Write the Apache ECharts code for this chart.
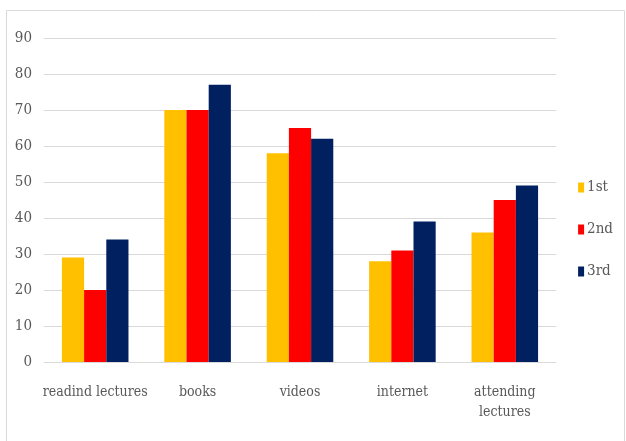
<!DOCTYPE html>
<html>
<head>
<meta charset="utf-8">
<script src="https://cdn.jsdelivr.net/npm/echarts@6/dist/echarts.min.js"></script>
<style>
  html, body {margin: 0; padding: 0; background: #fff;}
  #chart {width: 626px; height: 441px;}
</style>
</head>
<body>
<div id="chart"></div>
<script>
const categories = ['readind lectures', 'books', 'videos', 'internet', 'attending\nlectures'];
const first = [29, 70, 58, 28, 36];
const second = [20, 70, 65, 31, 45];
const third = [34, 77, 62, 39, 49];

const font = '"DejaVu Serif Condensed", "Liberation Serif", serif';
const gray = '#595959';

var myChart = echarts.init(document.getElementById('chart'));
myChart.setOption({
  animation: false,
  textStyle: {fontFamily: font},
  graphic: [{
    type: 'rect',
    shape: {x: 6.5, y: 10.5, width: 618, height: 445},
    style: {fill: 'none', stroke: '#d9d9d9', lineWidth: 1}
  }],
  legend: {
    orient: 'vertical',
    right: 8,
    top: 175,
    itemGap: 27,
    itemWidth: 6,
    itemHeight: 10,
    icon: 'rect',
    textStyle: {color: gray, fontSize: 15, fontFamily: font, padding: [0, 0, 0, -2]},
    data: ['1st', '2nd', '3rd']
  },
  grid: {left: 44, right: 70, top: 38, bottom: 79},
  xAxis: {
    type: 'category',
    data: categories,
    axisTick: {show: false},
    axisLine: {lineStyle: {color: '#d9d9d9'}},
    axisLabel: {color: gray, fontSize: 14, margin: 20, lineHeight: 20, interval: 0}
  },
  yAxis: {
    type: 'value',
    min: 0,
    max: 90,
    interval: 10,
    axisLine: {show: false},
    axisTick: {show: false},
    splitLine: {lineStyle: {color: '#d9d9d9'}},
    axisLabel: {color: gray, fontSize: 15, margin: 12}
  },
  series: [
    {name: '1st', data: first, color: '#ffc000'},
    {name: '2nd', data: second, color: '#ff0000'},
    {name: '3rd', data: third, color: '#002060'}
  ].map(s => ({
    ...s,
    type: 'bar',
    barGap: '0%',
    barCategoryGap: '35%'
  }))
});
</script>
</body>
</html>
